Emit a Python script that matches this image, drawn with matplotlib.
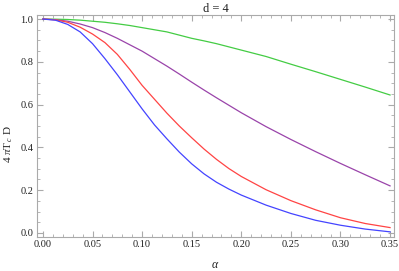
import numpy as np
import matplotlib
matplotlib.use("Agg")
from matplotlib import pyplot as plt
from matplotlib.ticker import MultipleLocator

plt.rcParams['font.family'] = ['Liberation Serif', 'DejaVu Serif']
plt.rcParams['mathtext.fontset'] = 'custom'
plt.rcParams['mathtext.rm'] = 'Liberation Serif'
plt.rcParams['mathtext.it'] = 'Liberation Serif:italic'

alpha = [0.0, 0.0125, 0.025, 0.0375, 0.05, 0.0625, 0.075, 0.0875, 0.1, 0.1125, 0.125,
         0.1375, 0.15, 0.1625, 0.175, 0.1875, 0.2, 0.225, 0.25, 0.275, 0.3, 0.325, 0.35]

green = [1.0, 0.9995, 0.998, 0.995, 0.99, 0.985, 0.978, 0.97, 0.96, 0.95, 0.94,
         0.925, 0.91, 0.898, 0.885, 0.87, 0.855, 0.825, 0.789, 0.754, 0.718, 0.682, 0.645]
purple = [1.0, 0.997, 0.99, 0.977, 0.96, 0.937, 0.91, 0.88, 0.85, 0.815, 0.78,
          0.743, 0.705, 0.668, 0.632, 0.597, 0.562, 0.497, 0.437, 0.38, 0.325, 0.272, 0.22]
red = [1.0, 0.997, 0.985, 0.962, 0.93, 0.89, 0.835, 0.765, 0.69, 0.625, 0.56,
       0.5, 0.445, 0.392, 0.344, 0.301, 0.264, 0.202, 0.151, 0.108, 0.071, 0.044, 0.025]
blue = [1.0, 0.995, 0.975, 0.94, 0.885, 0.815, 0.74, 0.66, 0.58, 0.505, 0.44,
        0.378, 0.323, 0.276, 0.237, 0.205, 0.177, 0.13, 0.091, 0.059, 0.036, 0.018, 0.005]

xticks = [0.0, 0.05, 0.1, 0.15, 0.2, 0.25, 0.3, 0.35]
yticks = [0.0, 0.2, 0.4, 0.6, 0.8, 1.0]

fig = plt.figure(figsize=(3.99, 2.71), dpi=100)
ax = fig.add_axes([0.0927, 0.1255, 0.8948, 0.8191])

ax.plot(alpha, green, color='#44cc44', lw=0.9)
ax.plot(alpha, purple, color='#9a44aa', lw=0.9)
ax.plot(alpha, red, color='#ff4444', lw=0.9)
ax.plot(alpha, blue, color='#4444ff', lw=0.9)

ax.set_xlim(-0.006, 0.354)
ax.set_ylim(-0.019, 1.019)

ax.set_xticks(xticks)
ax.set_xticklabels(['%.2f' % v for v in xticks])
ax.set_yticks(yticks)
ax.set_yticklabels(['%.1f' % v for v in yticks])
ax.xaxis.set_minor_locator(MultipleLocator(0.01))
ax.yaxis.set_minor_locator(MultipleLocator(0.05))

for s in ax.spines.values():
    s.set_color('#aaaaaa')
    s.set_linewidth(0.8)
ax.tick_params(which='both', direction='in', top=True, right=True, color='#aaaaaa',
               labelsize=7.5, labelcolor='#222222', pad=2.5)
ax.tick_params(which='major', length=4, width=0.8)
ax.tick_params(which='minor', length=2, width=0.6)

ax.set_title('d = 4', fontsize=9, pad=2, color='#222222')
ax.set_xlabel(r'$\alpha$', fontsize=8.5, color='#222222')
ax.xaxis.set_label_coords(0.5, -0.1)
ax.set_ylabel(r'4 $\pi$T$_{\,c}$ D', fontsize=8, color='#222222')
ax.yaxis.set_label_coords(-0.062, 0.42)

fig.savefig('out.png', dpi=100)
